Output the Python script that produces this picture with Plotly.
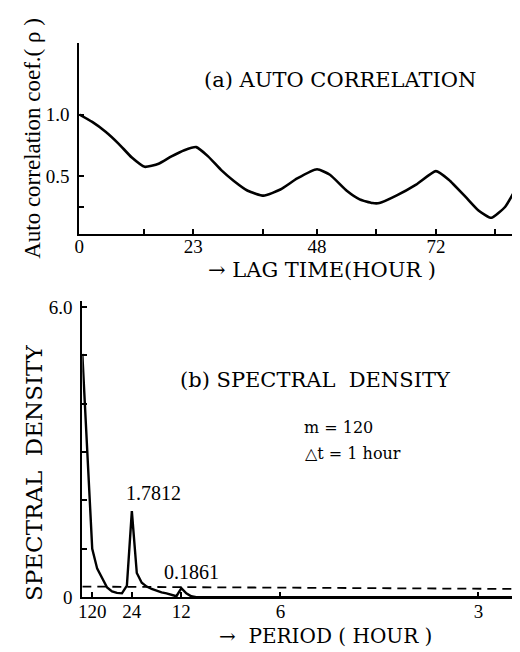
import plotly.graph_objects as go

# ---- (a) auto correlation data (lag hours, rho) ----
lag = [0, 2.6, 5.3, 8, 10.6, 13.2, 16, 18.6, 21.2, 23.6, 26, 28.6, 31.2, 34, 37.2,
       40.6, 44, 48, 50.6, 54, 56.6, 59.2, 60.6, 64, 68, 72, 74.6, 78, 80.6, 83.2,
       86, 88.2, 90.2]
rho = [1.0, 0.94, 0.86, 0.76, 0.65, 0.575, 0.60, 0.66, 0.71, 0.735, 0.66, 0.55, 0.46,
       0.38, 0.34, 0.39, 0.48, 0.555, 0.51, 0.38, 0.31, 0.28, 0.28, 0.34, 0.43, 0.54,
       0.47, 0.33, 0.22, 0.16, 0.25, 0.40, 0.54]
lag_tickvals = [0, 13, 23, 37, 48, 60, 72, 84]
lag_ticktext = ["0", "", "23", "", "48", "", "72", ""]
rho_tickvals = [0.25, 0.5, 1.0]
rho_ticktext = ["", "0.5", "1.0"]

# ---- (b) spectral density data (frequency index k, freq = k/240 cycles/hour) ----
k_index = list(range(0, 31))
density = [5.03, 3.0, 1.0, 0.59, 0.38, 0.2, 0.12, 0.09, 0.08, 0.24, 1.7812, 0.5,
           0.3, 0.22, 0.17, 0.13, 0.1, 0.08, 0.05, 0.02, 0.1861, 0.08, 0.02, 0.0,
           0.0, 0.0, 0.0, 0.0, 0.0, 0.0, 0.0]
tail_k = [30, 90]
tail_density = [0.0, 0.0]
conf_freq = [0.0, 0.375]
conf_level = [0.22, 0.17]
period_ticks = [120, 24, 12, 6, 3]
density_tickvals = [0, 1, 2, 3, 4, 5, 6]
density_ticktext = ["0", "", "", "", "", "", "6.0"]

freq = [k / 240 for k in k_index] + [k / 240 for k in tail_k]
dens_all = density + tail_density

W, H = 520, 652
def py(p):
    return 1 - p / H
def px(p):
    return p / W

SERIF = "Liberation Serif"
WIDE = "DejaVu Serif"
fig = go.Figure()

fig.add_trace(go.Scatter(x=lag, y=rho, mode="lines",
                         line=dict(color="black", width=2.6, shape="spline", smoothing=0.5),
                         xaxis="x", yaxis="y", showlegend=False, hoverinfo="skip"))
fig.add_trace(go.Scatter(x=freq, y=dens_all, mode="lines", line=dict(color="black", width=2.4),
                         xaxis="x2", yaxis="y2", showlegend=False, hoverinfo="skip"))
fig.add_trace(go.Scatter(x=conf_freq, y=conf_level, mode="lines",
                         line=dict(color="black", width=1.8, dash="9px,6px"),
                         xaxis="x2", yaxis="y2", showlegend=False, hoverinfo="skip"))

tickfont = dict(family=SERIF, size=19, color="black")
common = dict(ticks="inside", ticklen=5, tickwidth=1.5, tickcolor="black", showline=True,
              linecolor="black", linewidth=2, showgrid=False, zeroline=False, tickfont=tickfont)
fig.update_layout(
    width=W, height=H, margin=dict(l=0, r=0, t=0, b=0),
    paper_bgcolor="white", plot_bgcolor="white",
    xaxis=dict(domain=[px(67), 1.0], range=[0, 90.6], anchor="y",
               tickvals=lag_tickvals, ticktext=lag_ticktext, ticklabelstandoff=-6, **common),
    yaxis=dict(domain=[py(227), py(32)], range=[0.03, 1.58], anchor="x",
               tickvals=rho_tickvals, ticktext=rho_ticktext, ticklabelstandoff=4, **common),
    xaxis2=dict(domain=[px(70), 1.0], range=[0, 0.375], anchor="y2",
                tickvals=[1 / p for p in period_ticks], ticktext=[str(p) for p in period_ticks],
                ticklabelstandoff=-4, **common),
    yaxis2=dict(domain=[py(599), py(296)], range=[0, 6.12], anchor="x2",
                tickvals=density_tickvals, ticktext=density_ticktext, ticklabelstandoff=4,
                **common),
)

def note(text, x, y, size=17, angle=0, family=WIDE):
    fig.add_annotation(text=text, x=px(x), y=py(y), xref="paper", yref="paper",
                       showarrow=False, textangle=angle, xanchor="center", yanchor="middle",
                       font=dict(family=family, size=size, color="black"))

note("Auto correlation coef.( ρ )", 19, 129, size=23, angle=-90, family=SERIF)
note("(a) AUTO CORRELATION", 330, 70, size=21)
note("→ LAG TIME(HOUR )", 312, 264, size=21)
note("SPECTRAL  DENSITY", 21, 472, size=23, angle=-90)
note("(b) SPECTRAL  DENSITY", 305, 377, size=21)
note("m = 120", 329, 425, size=16)
note("△t = 1 hour", 343, 452, size=16)
note("1.7812", 142, 492, size=20, family=SERIF)
note("0.1861", 180, 573, size=20, family=SERIF)
note("→  PERIOD ( HOUR )", 316, 639, size=20)

fig.write_html("out.html")
